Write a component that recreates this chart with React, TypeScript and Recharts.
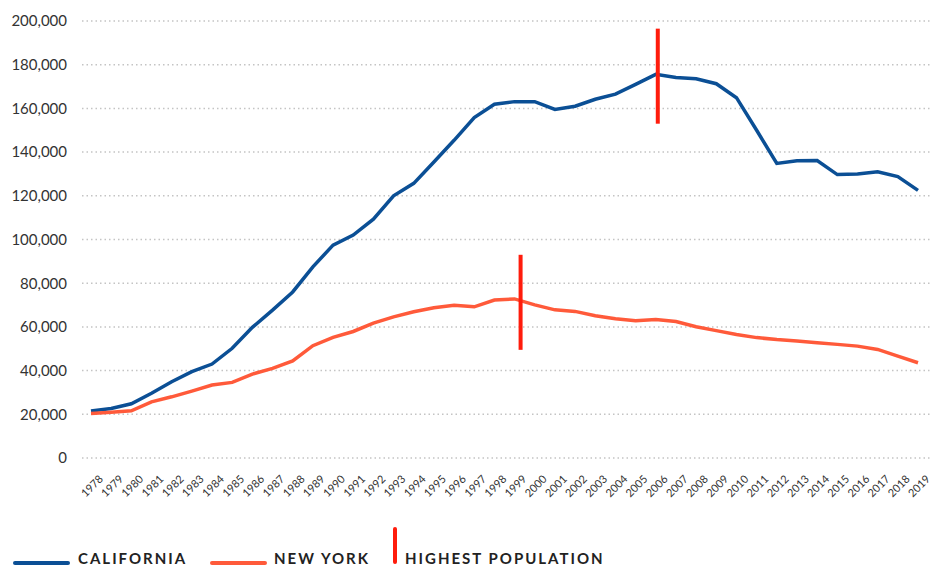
import React from 'react';
import { LineChart, Line, XAxis, YAxis, CartesianGrid, ReferenceLine } from 'recharts';

const YEARS = [
  '1978', '1979', '1980', '1981', '1982', '1983', '1984', '1985', '1986', '1987',
  '1988', '1989', '1990', '1991', '1992', '1993', '1994', '1995', '1996', '1997',
  '1998', '1999', '2000', '2001', '2002', '2003', '2004', '2005', '2006', '2007',
  '2008', '2009', '2010', '2011', '2012', '2013', '2014', '2015', '2016', '2017',
  '2018', '2019',
];

const CALIFORNIA = [
  21500, 22700, 24800, 29600, 34900, 39500, 43000, 50200, 59800, 67700,
  76000, 87500, 97400, 102000, 109300, 120000, 125700, 135500, 145400, 155800,
  161900, 163100, 163100, 159500, 161000, 164200, 166500, 171000, 175600, 174100,
  173600, 171300, 164900, 150000, 134800, 136000, 136100, 129700, 130000, 131000,
  128800, 122500,
];

const NEW_YORK = [
  20400, 20900, 21600, 25700, 28000, 30600, 33400, 34600, 38400, 41000,
  44400, 51400, 55200, 57900, 61700, 64600, 66900, 68800, 69900, 69200,
  72300, 72800, 70100, 67800, 67100, 65100, 63700, 62800, 63400, 62500,
  60100, 58300, 56500, 55100, 54200, 53600, 52800, 52000, 51200, 49700,
  46600, 43600,
];

const Y_TICKS = [0, 20000, 40000, 60000, 80000, 100000, 120000, 140000, 160000, 180000, 200000];

// red bars marking each state's peak year (dx: small nudge as in the original artwork)
const PEAK_MARKERS = [
  { year: '2006', low: 153000, high: 196500, dx: 2 },
  { year: '1999', low: 49500, high: 93000, dx: 6 },
];

const BLUE = '#0b4f95';
const ORANGE = '#ff5a3a';
const RED = '#ff1c0c';
const FONT = 'Lato, "Open Sans", sans-serif';

const data = YEARS.map((year, i) => ({
  year,
  california: CALIFORNIA[i],
  newYork: NEW_YORK[i],
}));

const YearTick = (props: any) => {
  const { x, y, payload } = props;
  return (
    <g transform={`translate(${x + 1},${y + 20})`}>
      <text
        transform="rotate(-45)"
        textAnchor="middle"
        dy="0.35em"
        fontSize={11}
        fontFamily={FONT}
        fill="#333"
      >
        {payload.value}
      </text>
    </g>
  );
};

const markerShape = (dx: number) => (props: any) => {
  const { x1, y1, x2, y2 } = props;
  return <line x1={x1 + dx} y1={y1} x2={x2 + dx} y2={y2} stroke={RED} strokeWidth={4} />;
};

const legendText: React.CSSProperties = {
  position: 'absolute',
  top: 549,
  fontFamily: FONT,
  fontWeight: 700,
  fontSize: 15,
  letterSpacing: 2,
  color: '#222',
  lineHeight: '18px',
  whiteSpace: 'nowrap',
};

const ChartLegend = () => (
  <>
    <div style={{ position: 'absolute', left: 13, top: 561, width: 57, height: 4, borderRadius: 2, background: BLUE }} />
    <div style={{ ...legendText, left: 78 }}>CALIFORNIA</div>
    <div style={{ position: 'absolute', left: 210, top: 561, width: 57, height: 4, borderRadius: 2, background: ORANGE }} />
    <div style={{ ...legendText, left: 274 }}>NEW YORK</div>
    <div style={{ position: 'absolute', left: 393, top: 527, width: 4, height: 37, borderRadius: 2, background: RED }} />
    <div style={{ ...legendText, left: 405 }}>HIGHEST POPULATION</div>
  </>
);

export default function App() {
  return (
    <div style={{ position: 'absolute', left: 0, top: 0, width: 938, height: 567, background: '#fff', overflow: 'hidden' }}>
      <LineChart width={938} height={567} data={data} margin={{ top: 21, right: 8, bottom: 49, left: 0 }}>
        <CartesianGrid vertical={false} stroke="#c4c4c4" strokeDasharray="1.5 3" strokeWidth={1.5} />
        <XAxis
          dataKey="year"
          axisLine={false}
          tickLine={false}
          interval={0}
          height={60}
          padding={{ left: 9, right: 12 }}
          tick={<YearTick />}
        />
        <YAxis
          domain={[0, 200000]}
          ticks={Y_TICKS}
          width={82}
          axisLine={false}
          tickLine={false}
          tickMargin={9}
          tickFormatter={(v: number) => v.toLocaleString('en-US')}
          tick={{ fontSize: 15, fontFamily: FONT, fill: '#333' }}
        />
        <Line
          type="linear"
          dataKey="california"
          stroke={BLUE}
          strokeWidth={3.5}
          dot={false}
          activeDot={false}
          isAnimationActive={false}
        />
        <Line
          type="linear"
          dataKey="newYork"
          stroke={ORANGE}
          strokeWidth={3.5}
          dot={false}
          activeDot={false}
          isAnimationActive={false}
        />
        {PEAK_MARKERS.map((m) => (
          <ReferenceLine
            key={m.year}
            segment={[{ x: m.year, y: m.low }, { x: m.year, y: m.high }]}
            stroke={RED}
            strokeWidth={4}
            shape={markerShape(m.dx)}
          />
        ))}
      </LineChart>
      <ChartLegend />
    </div>
  );
}
